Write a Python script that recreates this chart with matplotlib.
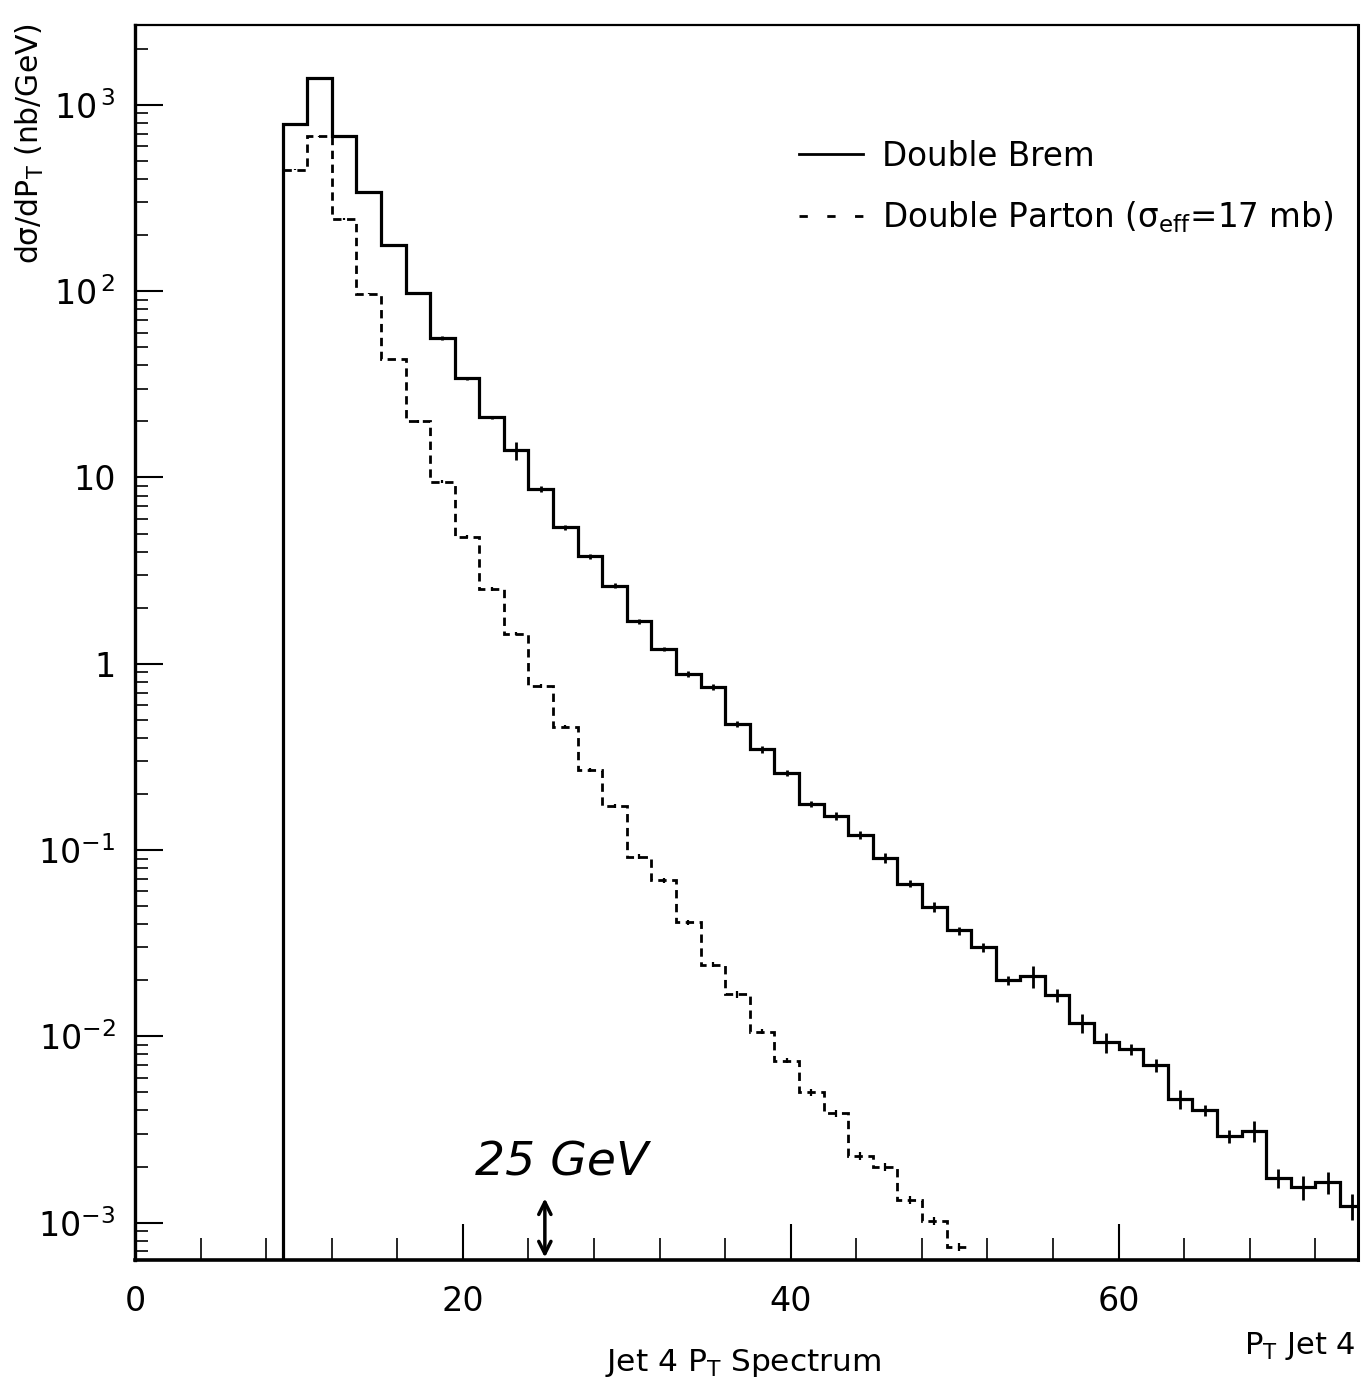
import matplotlib
matplotlib.use("Agg")
import matplotlib.pyplot as plt
import numpy as np
from matplotlib.lines import Line2D
from matplotlib.ticker import FixedLocator, FixedFormatter, LogLocator, NullFormatter, MultipleLocator

plt.rcParams["font.family"] = ["DejaVu Sans"]
plt.rcParams["mathtext.default"] = "regular"

# Jet 4 pT histogram, 1.5 GeV bins starting at 9 GeV
bin_lo = 9.0
bin_width = 1.5

# Double Brem (solid), dsigma/dpT in nb/GeV
brem = [790, 1400, 680, 340, 177, 98, 56, 34, 21, 14.0,
        8.7, 5.4, 3.77, 2.62, 1.69, 1.20, 0.88, 0.75, 0.475, 0.347,
        0.26, 0.177, 0.153, 0.12, 0.091, 0.066, 0.0497, 0.037, 0.030, 0.020,
        0.021, 0.0167, 0.0118, 0.0093, 0.0085, 0.0070, 0.0046, 0.0040, 0.0029, 0.0031,
        0.00174, 0.00155, 0.00165, 0.00123]
# relative statistical errors
brem_err = [0.01, 0.01, 0.01, 0.01, 0.015, 0.015, 0.02, 0.02, 0.02, 0.11,
            0.04, 0.03, 0.03, 0.03, 0.03, 0.03, 0.04, 0.04, 0.04, 0.04,
            0.04, 0.035, 0.05, 0.05, 0.06, 0.04, 0.06, 0.05, 0.06, 0.06,
            0.13, 0.08, 0.12, 0.12, 0.07, 0.08, 0.12, 0.07, 0.08, 0.13,
            0.12, 0.15, 0.14, 0.16]

# Double Parton (dashed), sigma_eff = 17 mb
parton = [450, 680, 244, 97, 43, 20, 9.5, 4.8, 2.52, 1.45,
          0.76, 0.46, 0.27, 0.172, 0.092, 0.069, 0.041, 0.0243, 0.0168, 0.0106,
          0.0074, 0.0050, 0.00386, 0.00229, 0.0020, 0.00133, 0.00102, 0.00074]
parton_err = [0.005, 0.005, 0.01, 0.01, 0.01, 0.015, 0.015, 0.02, 0.02, 0.02,
              0.02, 0.02, 0.025, 0.025, 0.03, 0.03, 0.03, 0.03, 0.04, 0.03,
              0.03, 0.04, 0.04, 0.05, 0.05, 0.05, 0.05, 0.05]

ytick_vals = [1e3, 1e2, 10, 1, 1e-1, 1e-2, 1e-3]
ytick_text = ["$10^{\\,3}$", "$10^{\\,2}$", "10", "1", "$10^{-1}$", "$10^{-2}$", "$10^{-3}$"]

brem = np.array(brem)
parton = np.array(parton)
edges_b = bin_lo + bin_width * np.arange(len(brem) + 1)
edges_p = bin_lo + bin_width * np.arange(len(parton) + 1)
cent_b = 0.5 * (edges_b[:-1] + edges_b[1:])
cent_p = 0.5 * (edges_p[:-1] + edges_p[1:])

fig = plt.figure(figsize=(13.65, 13.82), dpi=100)
ax = fig.add_axes([135 / 1365, 1 - 1260 / 1382, (1358 - 135) / 1365, (1260 - 25) / 1382])

ax.set_yscale("log")
ax.set_xlim(0, 74.6)
ax.set_ylim(6.3e-4, 2685)

ax.stairs(brem, edges_b, baseline=1e-5, color="black", lw=2.3)
ax.errorbar(cent_b, brem, yerr=brem * np.array(brem_err), fmt="none",
            ecolor="black", elinewidth=2.0, capsize=0)

ax.stairs(parton, edges_p, baseline=None, color="black", lw=2.0,
          linestyle=(0, (3, 2)))
ax.errorbar(cent_p, parton, yerr=parton * np.array(parton_err), fmt="none",
            ecolor="black", elinewidth=1.6, capsize=0)

# ticks
ax.yaxis.set_major_locator(FixedLocator(ytick_vals))
ax.yaxis.set_major_formatter(FixedFormatter(ytick_text))
ax.yaxis.set_minor_locator(LogLocator(base=10, subs=np.arange(2, 10), numticks=20))
ax.yaxis.set_minor_formatter(NullFormatter())
ax.xaxis.set_major_locator(FixedLocator([0, 20, 40, 60]))
ax.xaxis.set_minor_locator(MultipleLocator(4))
ax.tick_params(axis="both", which="both", direction="in", top=False, right=False, color="black")
ax.tick_params(axis="y", which="major", length=20, width=1.5, labelsize=24, pad=14)
ax.tick_params(axis="y", which="minor", length=9, width=1.2)
ax.tick_params(axis="x", which="major", length=26, width=1.5, labelsize=24, pad=18)
ax.tick_params(axis="x", which="minor", length=16, width=1.2)

for side, lw in [("left", 2.4), ("bottom", 2.6), ("top", 1.6), ("right", 2.2)]:
    ax.spines[side].set_linewidth(lw)

# legend
handles = [Line2D([], [], color="black", lw=2.0),
           Line2D([], [], color="black", lw=2.0, linestyle=(0, (3, 7)))]
labels = ["Double Brem", "Double Parton ($\\sigma_{eff}$=17 mb)"]
ax.legend(handles, labels, loc="upper left", bbox_to_anchor=(0.543, 0.907),
          frameon=False, fontsize=23.5, handlelength=1.95, handletextpad=0.6,
          labelspacing=0.8, borderpad=0, borderaxespad=0)

# hand-written cut annotation
ax.annotate("", xy=(25, 6.5e-4), xytext=(25, 1.35e-3),
            arrowprops=dict(arrowstyle="<->", lw=2.5, color="black",
                            shrinkA=0, shrinkB=0, mutation_scale=22))
ax.text(26.0, 2.1e-3, "25 GeV", fontsize=34, fontstyle="italic",
        ha="center", va="center", color="black")

fig.text(30 / 1365, 1 - 143 / 1382, "d$\\sigma$/dP$_T$ (nb/GeV)", rotation=90,
         ha="center", va="center", fontsize=21.5)
fig.text(743 / 1365, 1 - 1363 / 1382, "Jet 4 P$_T$ Spectrum", ha="center",
         va="center", fontsize=22.5)
fig.text(1355 / 1365, 1 - 1346 / 1382, "P$_T$ Jet 4", ha="right",
         va="center", fontsize=22)

fig.savefig("out.png", dpi=100)
